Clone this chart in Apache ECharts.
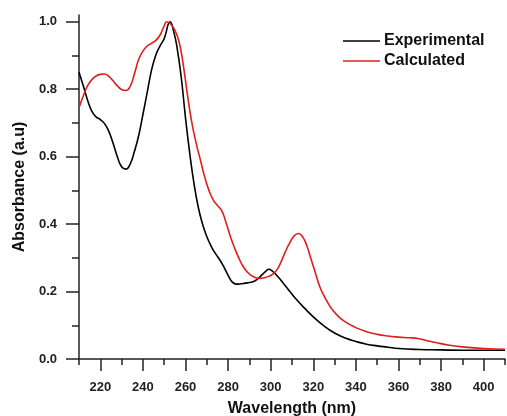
<!DOCTYPE html>
<html>
<head>
<meta charset="utf-8">
<script src="https://cdn.jsdelivr.net/npm/echarts@6/dist/echarts.min.js"></script>
<style>html,body{margin:0;padding:0;background:#fff;}#c{width:507px;height:416px;}</style>
</head>
<body>
<div id="c"></div>
<script>
var expWavelength = [210,212,214,216,218,220,222,224,226,228,230,232,234,236,238,240,242,244,246,248,250,252.8,254.5,256,258,260,262,264,266,268,270,272,274,276,278,280,282,284,286,288,290,292,294,296,298,299,300.5,303,306,309,312,316,320,325,330,335,340,345,350,355,360,370,380,390,400,410];
var expAbs = [0.85,0.81,0.768,0.735,0.718,0.71,0.698,0.675,0.64,0.60,0.57,0.563,0.578,0.615,0.662,0.725,0.79,0.855,0.90,0.928,0.95,1.0,0.97,0.925,0.835,0.715,0.61,0.52,0.45,0.40,0.363,0.335,0.313,0.295,0.273,0.248,0.228,0.222,0.223,0.225,0.227,0.230,0.238,0.25,0.262,0.266,0.262,0.247,0.224,0.2,0.177,0.15,0.125,0.098,0.077,0.062,0.052,0.044,0.039,0.035,0.031,0.028,0.027,0.026,0.026,0.026];
var calcWavelength = [210,212,214,216,218,220,222,224,226,228,230,232,234,236,238,240,242,244,246,248,250,251.2,253,255,257,259,261,263,265,267,269,271,273,275,277,279,281,283,285,287,289,291,293,295,297,299,301,303,305,307,309,311,313,315,317,319,321,323,325,327,329,332,335,340,345,350,355,360,365,369,373,378,384,390,400,410];
var calcAbs = [0.745,0.78,0.81,0.828,0.839,0.844,0.845,0.838,0.825,0.81,0.799,0.796,0.808,0.845,0.888,0.913,0.928,0.936,0.944,0.96,0.988,1.0,0.993,0.975,0.94,0.87,0.78,0.70,0.64,0.59,0.54,0.50,0.472,0.455,0.44,0.405,0.365,0.33,0.30,0.275,0.258,0.247,0.241,0.239,0.241,0.245,0.252,0.265,0.29,0.32,0.345,0.365,0.372,0.362,0.335,0.295,0.255,0.215,0.188,0.165,0.146,0.125,0.11,0.093,0.081,0.073,0.068,0.065,0.063,0.061,0.055,0.048,0.041,0.036,0.031,0.029];
var xMajorTicks = [220,240,260,280,300,320,340,360,380,400];
var xMinorTicks = [210,230,250,270,290,310,330,350,370,390,410];
var yMajorTicks = [0,0.2,0.4,0.6,0.8,1.0];
var yMinorTicks = [0.1,0.3,0.5,0.7,0.9];
var seriesNames = ['Experimental','Calculated'];

function pairs(xs, ys){ return xs.map(function(x,i){ return [x, ys[i]]; }); }

var axisColor = '#222';
var font = 'Liberation Sans, Arial, sans-serif';
var chart = echarts.init(document.getElementById('c'), null, {renderer:'canvas'});
chart.setOption({
  animation: false,
  backgroundColor: '#fff',
  grid: {left: 79, right: 2, top: 15, bottom: 57, containLabel: false, outerBoundsMode: 'none'},
  legend: {
    orient: 'vertical', left: 338, top: 28, itemGap: 4,
    itemWidth: 37, itemHeight: 16,
    textStyle: {fontFamily: font, fontWeight: 'bold', fontSize: 16, color: '#111', padding: [0,0,0,-1]},
    data: [{name: seriesNames[0], icon: 'path://M0,7.3 L37,7.3 L37,8.7 L0,8.7 Z'},
           {name: seriesNames[1], icon: 'path://M0,7.3 L37,7.3 L37,8.7 L0,8.7 Z'}]
  },
  xAxis: [{
    type: 'value', min: 210, max: 410, position: 'bottom',
    name: 'Wavelength (nm)', nameLocation: 'middle', nameGap: 42,
    nameTextStyle: {fontFamily: font, fontWeight: 'bold', fontSize: 16, color: '#111'},
    axisLine: {show: true, onZero: false, lineStyle: {color: axisColor, width: 1.5}},
    axisTick: {show: true, inside: false, length: 12, customValues: xMajorTicks, lineStyle: {color: axisColor, width: 1.5}},
    axisLabel: {show: true, margin: 22, customValues: xMajorTicks, fontFamily: font, fontWeight: 'bold', fontSize: 13, color: '#222'},
    splitLine: {show: false}
  },{
    type: 'value', min: 210, max: 410, position: 'bottom',
    axisLine: {show: false},
    axisTick: {show: true, inside: false, length: 6, customValues: xMinorTicks, lineStyle: {color: axisColor, width: 1.5}},
    axisLabel: {show: false},
    splitLine: {show: false}
  }],
  yAxis: [{
    type: 'value', min: 0, max: 1.02, position: 'left',
    name: 'Absorbance (a.u)', nameLocation: 'middle', nameGap: 51,
    nameTextStyle: {fontFamily: font, fontWeight: 'bold', fontSize: 16, color: '#111'},
    axisLine: {show: true, onZero: false, lineStyle: {color: axisColor, width: 1.5}},
    axisTick: {show: true, inside: false, length: 13, customValues: yMajorTicks, lineStyle: {color: axisColor, width: 1.5}},
    axisLabel: {show: true, margin: 22, customValues: yMajorTicks, fontFamily: font, fontWeight: 'bold', fontSize: 13, color: '#222',
      formatter: function(v){ return v.toFixed(1); }},
    splitLine: {show: false}
  },{
    type: 'value', min: 0, max: 1.02, position: 'left',
    axisLine: {show: false},
    axisTick: {show: true, inside: false, length: 7, customValues: yMinorTicks, lineStyle: {color: axisColor, width: 1.5}},
    axisLabel: {show: false},
    splitLine: {show: false}
  }],
  series: [{
    name: seriesNames[0], type: 'line', xAxisIndex: 0, yAxisIndex: 0,
    data: pairs(expWavelength, expAbs), showSymbol: false, smooth: 0.5,
    lineStyle: {color: '#000', width: 1.6}, itemStyle: {color: '#000'}
  },{
    name: seriesNames[1], type: 'line', xAxisIndex: 0, yAxisIndex: 0,
    data: pairs(calcWavelength, calcAbs), showSymbol: false, smooth: 0.5,
    lineStyle: {color: '#e01e1e', width: 1.6}, itemStyle: {color: '#e01e1e'}
  }]
});
</script>
</body>
</html>
